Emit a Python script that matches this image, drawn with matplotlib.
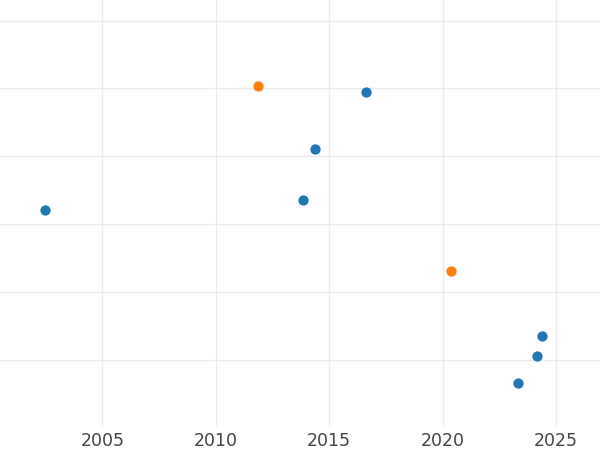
import matplotlib
matplotlib.use("Agg")
import matplotlib.pyplot as plt

# values (y in gridline units, labels hidden)
years_blue = [2002.47, 2016.64, 2014.37, 2013.86, 2024.39, 2024.15, 2023.32]
vals_blue = [2.20, 3.95, 3.10, 2.35, 0.35, 0.05, -0.35]
years_orange = [2011.88, 2020.36]
vals_orange = [4.04, 1.30]
xticks = [2005, 2010, 2015, 2020, 2025]
yticks = [0, 1, 2, 3, 4, 5]

fig = plt.figure(figsize=(6, 4.5), dpi=100)
ax = fig.add_axes([0, 0.0518, 1, 0.9482])

ax.scatter(years_blue, vals_blue, s=55, color="#1f77b4", zorder=3, linewidths=0)
ax.scatter(years_orange, vals_orange, s=55, color="#ff7f0e", zorder=3, linewidths=0)

ax.set_xlim(2000.49, 2026.94)
ax.set_ylim(-0.99, 5.305)
ax.set_xticks(xticks)
ax.set_yticks(yticks)
ax.set_yticklabels([])
ax.grid(True, color="#ebebeb", linewidth=1.0)
ax.set_axisbelow(True)
ax.tick_params(length=0, labelsize=12.5, labelcolor="#444444", pad=3.5)
for s in ax.spines.values():
    s.set_visible(False)

fig.savefig("out.png", dpi=100)
